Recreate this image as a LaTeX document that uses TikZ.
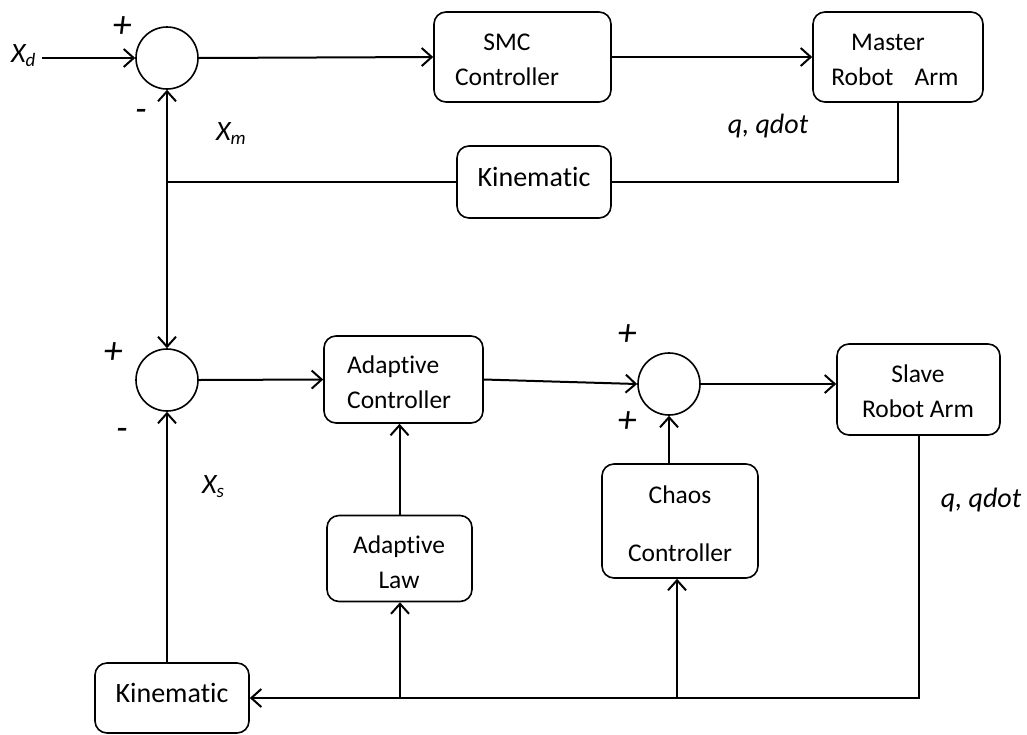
\documentclass[tikz,border=0pt]{standalone}
\usepackage{fontspec}
\setmainfont{Carlito}[RawFeature=-liga]
\usetikzlibrary{arrows.meta}
\begin{document}
\begin{tikzpicture}[x=1pt,y=-1pt,
  every node/.style={font=\fontsize{25.5}{35}\selectfont},
  blk/.style={draw,line width=1.6pt,rounded corners=12pt,inner sep=0pt},
  sumc/.style={draw,circle,line width=1.6pt,minimum size=62pt,inner sep=0pt},
  txt/.style={anchor=base,inner sep=0pt},
  bigtxt/.style={anchor=base,inner sep=0pt,font=\fontsize{28}{35}\selectfont},
  lbl/.style={anchor=base,inner sep=0pt,font=\fontsize{28}{30}\selectfont\itshape},
  sgn/.style={anchor=base,inner sep=0pt,font=\fontsize{38}{38}\selectfont\itshape},
  wire/.style={line width=2pt},
  arr/.style={line width=2pt,-{Straight Barb[length=10pt,width=18pt,line width=2pt]}}
]
\useasboundingbox (0,0) rectangle (1027,734);

% summing junctions
\node[sumc] (s1) at (167,58) {};
\node[sumc] (s2) at (167,380) {};
\node[sumc] (s3) at (669,384) {};

% blocks
\node[blk,minimum width=177pt,minimum height=90pt] (smc) at (522.5,57) {};
\node[blk,minimum width=170pt,minimum height=90pt] (master) at (898,57) {};
\node[blk,minimum width=154pt,minimum height=72pt] (kin1) at (534,182) {};
\node[blk,minimum width=159pt,minimum height=87pt] (ac) at (403.5,379.5) {};
\node[blk,minimum width=145pt,minimum height=86pt] (law) at (399.5,558.5) {};
\node[blk,minimum width=156pt,minimum height=114pt] (chaos) at (680,521) {};
\node[blk,minimum width=163pt,minimum height=91pt] (slave) at (918.5,389.5) {};
\node[blk,minimum width=154pt,minimum height=70pt] (kin2) at (172,698) {};

% block texts
\node[txt] (tsmc1) at (507,50) {SMC};
\node[txt] (tsmc2) at (507,85) {Controller};
\node[txt] (tm1) at (888,50) {Master};
\node[txt] (tm2) at (895,85) {Robot\hspace{0.6em} Arm};
\node[bigtxt] (tk1) at (534,186) {Kinematic};
\node[txt,anchor=base west] (tac1) at (347,373) {Adaptive};
\node[txt,anchor=base west] (tac2) at (347,408) {Controller};
\node[txt] (tl1) at (399,553) {Adaptive};
\node[txt] (tl2) at (399,588) {Law};
\node[txt] (tc1) at (680,503) {Chaos};
\node[txt] (tc2) at (680,561) {Controller};
\node[txt] (ts1) at (918,382) {Slave};
\node[txt] (ts2) at (918,417) {Robot Arm};
\node[bigtxt] (tk2) at (172,702) {Kinematic};

% labels
\node[lbl,anchor=base west] (xd) at (11,62) {X\raisebox{-0.3ex}{\fontsize{19}{20}\selectfont d}};
\node[lbl,anchor=base west] (xm) at (216,140) {X\raisebox{-0.3ex}{\fontsize{19}{20}\selectfont m}};
\node[lbl,anchor=base west] (xs) at (202,493) {X\raisebox{-0.3ex}{\fontsize{19}{20}\selectfont s}};
\node[lbl] (qm) at (768,133) {q, qdot};
\node[lbl] (qs) at (981,507) {q, qdot};
\node[sgn] (p1) at (122,37) {+};
\node[sgn] (m1) at (141,121) {-};
\node[sgn] (p2) at (113,363) {+};
\node[sgn] (m2) at (122,440) {-};
\node[sgn] (p3) at (627,345) {+};
\node[sgn] (p4) at (627,432) {+};

% coordinates
\coordinate (xin) at (42,58);
\coordinate (j1) at (167,182);
\coordinate (jl) at (400,698);
\coordinate (jc) at (677,698);

% connectors
\draw[arr] (xin) -- (s1.west);
\draw[arr] (s1.east) -- (smc.west);
\draw[arr] (smc.east) -- (master.west);
\draw[wire] (master.south) |- (kin1.east);
\draw[wire] (kin1.west) -- (j1);
\draw[arr] (j1) -- (s1.south);
\draw[arr] (j1) -- (s2.north);
\draw[arr] (s2.east) -- (ac.west);
\draw[arr] (ac.east) -- (s3.west);
\draw[arr] (s3.east) -- (s3.east -| slave.west);
\draw[arr] (s3.south |- chaos.north) -- (s3.south);
\draw[arr] (law.north) -- (law.north |- ac.south);
\draw[arr] (slave.south) |- (kin2.east);
\draw[arr] (jl) -- (jl |- law.south);
\draw[arr] (jc) -- (jc |- chaos.south);
\draw[arr] (s2.south |- kin2.north) -- (s2.south);
\end{tikzpicture}
\end{document}
